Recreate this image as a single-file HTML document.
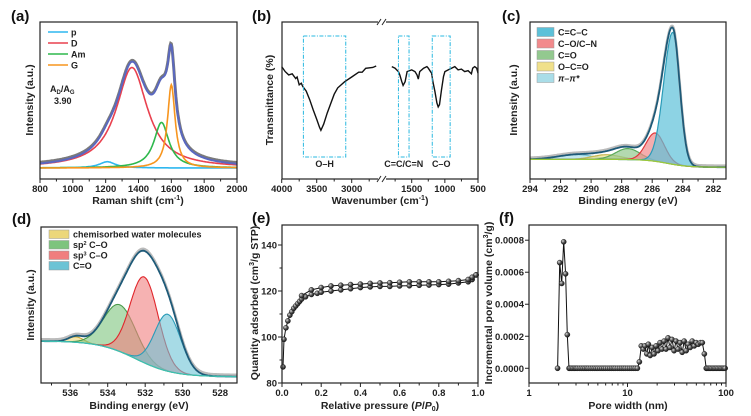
<!DOCTYPE html>
<html><head><meta charset="utf-8">
<style>
html,body{margin:0;padding:0;background:#fff;}
svg{display:block;font-family:"Liberation Sans",Arial,sans-serif;}
.tk{font-size:9.5px;font-weight:bold;fill:#222;}
.ttl{font-size:10.5px;font-weight:bold;fill:#222;}
.pl{font-size:15px;font-weight:bold;fill:#111;}
.lg{font-size:9px;font-weight:bold;fill:#222;}
</style></head>
<body>
<svg id="fig" width="751" height="416" viewBox="0 0 751 416" xmlns="http://www.w3.org/2000/svg">
<defs>
<radialGradient id="ball" cx="0.35" cy="0.35" r="0.7">
<stop offset="0" stop-color="#ddd"/><stop offset="0.5" stop-color="#555"/><stop offset="1" stop-color="#111"/>
</radialGradient>
</defs>
</svg>
<script>
// ---------- data ----------
const ramanNames=["p","D","Am","G"];
const ramanCenters=[1210,1360,1540,1600];
const ramanAmps=[0.04,0.64,0.29,0.53];
const ramanWidths=[60,115,55,28];
const ramanColors=["#2fb7ef","#e9414f","#2eb84d","#f7951e"];
const ramanBase=0.07;
const ramanXTicks=[800,1000,1200,1400,1600,1800,2000];
const ftirLeftX=[4000,3950,3900,3850,3800,3780,3750,3720,3700,3650,3600,3550,3500,3460,3440,3400,3350,3300,3250,3200,3100,3000,2900,2850,2800,2700,2650];
const ftirLeftY=[0.716,0.684,0.663,0.67,0.64,0.65,0.60,0.61,0.59,0.56,0.505,0.44,0.38,0.33,0.31,0.35,0.42,0.48,0.54,0.58,0.62,0.65,0.68,0.68,0.705,0.71,0.72];
const ftirRightX=[1800,1750,1700,1680,1650,1630,1600,1570,1500,1450,1420,1400,1380,1320,1270,1250,1200,1180,1150,1120,1100,1080,1050,1020,1000,950,900,850,800,750,700,650,600,580,550,520,500];
const ftirRightY=[0.716,0.706,0.684,0.663,0.62,0.596,0.62,0.684,0.695,0.684,0.663,0.636,0.684,0.706,0.716,0.706,0.674,0.62,0.558,0.484,0.459,0.474,0.568,0.653,0.684,0.695,0.706,0.716,0.695,0.7,0.684,0.69,0.67,0.706,0.716,0.706,0.674];
const ftirLeftTicks=[4000,3500,3000];
const ftirRightTicks=[1500,1000,500];
const ftirBoxes=[[3690,3085,"O–H"],[1700,1540,"C=C/C=N"],[1190,920,"C–O"]];
const c1sNames=["C=C–C","C–O/C–N","C=O","O–C=O","π–π*"];
const c1sCenters=[284.65,285.8,287.6,289.0,291.0];
const c1sHeights=[0.84,0.18,0.07,0.03,0.03];
const c1sSigmas=[0.45,0.6,0.8,0.9,1.2];
const c1sFill=["#5cc1d9","#f28a8c","#93c98f","#f0e08a","#a9dde8"];
const c1sStroke=["#2a9bb8","#e0393b","#5aaa5a","#c8b850","#7cc8d8"];
const c1sXTicks=[294,292,290,288,286,284,282];
const o1sNames=["chemisorbed water molecules","sp2","sp3","C=O"];
const o1sCenters=[535.7,533.35,532.05,530.8];
const o1sHeights=[0.035,0.30,0.55,0.365];
const o1sSigmas=[0.4,0.85,0.75,0.7];
const o1sFill=["#ecd77a","#7dc47d","#f07e7e","#6cc3d5"];
const o1sStroke=["#c9a93a","#4a9a4a","#e0262b","#2a9bb8"];
const o1sXTicks=[536,534,532,530,528];
const adsP=[0.005,0.01,0.02,0.03,0.04,0.05,0.06,0.07,0.08,0.09,0.1,0.12,0.15,0.18,0.2,0.25,0.3,0.35,0.4,0.45,0.5,0.55,0.6,0.65,0.7,0.75,0.8,0.85,0.9,0.95,0.97,0.99];
const adsQ=[87,99,104,107,109.5,111,112.5,113.5,114.5,115.5,116.5,117.5,118.5,119,119.5,120,120.5,121,121.5,121.8,122,122,122.2,122.3,122.5,122.6,122.8,123,123.5,124,125,127];
const desP=[0.99,0.97,0.95,0.9,0.85,0.8,0.75,0.7,0.65,0.6,0.55,0.5,0.45,0.4,0.35,0.3,0.25,0.2,0.15,0.1];
const desQ=[127,126,125,124.5,124.2,124,124,124,124,123.8,123.6,123.5,123.3,123,122.8,122.5,122.2,121.5,120.5,118];
const eXTicks=[0,0.2,0.4,0.6,0.8,1.0];
const eYTicks=[80,100,120,140];
const poreW=[1.95,2.05,2.15,2.25,2.35,2.45,2.55,2.6,2.7,2.8,2.9,3.0,3.1,3.25,3.4,3.55,3.7,3.85,4.0,4.2,4.4,4.6,4.8,5.0,5.25,5.5,5.75,6.0,6.3,6.6,6.9,7.2,7.5,7.9,8.3,8.7,9.1,9.5,10,10.5,11,11.5,12,12.6,13.2,13.8,14.5,15,15.7,16.3,17,17.8,18.6,19.5,20.4,21.4,22.4,23.5,24.6,25.8,27,28.3,29.7,31.1,32.6,34.2,35.9,37.6,39.4,41.3,43.3,45.4,47.6,49.9,52.3,54.9,57.5,60.3,63,64,66,68,70,72.5,75,77.5,80,83,86,89,92,95,98];
const poreV=[0,0.00066,0.00053,0.00079,0.00059,0.00021,0,0,0,0,0,0,0,0,0,0,0,0,0,0,0,0,0,0,0,0,0,0,0,0,0,0,0,0,0,0,0,0,0,0,0,0,0,0,0.00004,0.00014,0.00012,0.00014,0.00009,0.00015,0.00008,0.00013,0.00009,0.00014,0.00011,0.00016,0.00012,0.00017,0.00012,0.00019,0.00013,0.00018,0.00011,0.00017,0.00012,0.00016,0.0001,0.00017,0.00011,0.00015,0.00013,0.00017,0.00014,0.00016,0.00015,0.00016,0.00016,0.00009,0,0,0,0,0,0,0,0,0,0,0,0,0,0,0];
const fYTicks=[0,0.0002,0.0004,0.0006,0.0008];
const fYLabels=["0.0000","0.0002","0.0004","0.0006","0.0008"];
const fXTicks=[1,10,100];

// ---------- helpers ----------
const svg=document.getElementById('fig');
const NS="http://www.w3.org/2000/svg";
function mk(tag,attrs,parent){const e=document.createElementNS(NS,tag);for(const k in attrs)e.setAttribute(k,attrs[k]);(parent||svg).appendChild(e);return e;}
function txt(s,x,y,cls,anchor,parent){const t=mk('text',{x:x,y:y,class:cls,'text-anchor':anchor||'middle'},parent);t.textContent=s;return t;}
function lin(d0,d1,r0,r1){return v=>r0+(v-d0)/(d1-d0)*(r1-r0);}
function logs(d0,d1,r0,r1){return v=>r0+(Math.log10(v)-Math.log10(d0))/(Math.log10(d1)-Math.log10(d0))*(r1-r0);}
function pathD(xs,ys){return xs.map((x,i)=>(i?'L':'M')+x.toFixed(1)+','+ys[i].toFixed(1)).join('');}
function gauss(x,c,h,s){return h*Math.exp(-(x-c)*(x-c)/(2*s*s));}
function frame(g,x0,y0,x1,y1){const r=mk('rect',{x:x0,y:y0,width:x1-x0,height:y1-y0,fill:'none',stroke:'#222','stroke-width':1.2},g);}
function xticks(g,ticks,sx,yb,minor,labels){
  ticks.forEach((t,i)=>{mk('line',{x1:sx(t),x2:sx(t),y1:yb,y2:yb+4,stroke:'#222','stroke-width':1},g);
    const l=txt(labels?labels[i]:String(t),sx(t),yb+13,'tk','middle',g);});
  (minor||[]).forEach(t=>mk('line',{x1:sx(t),x2:sx(t),y1:yb,y2:yb+2.5,stroke:'#222','stroke-width':1},g));
}
function panelLabel(g,s,x,y){const t=txt(s,x,y,'pl','start',g);}
function ytitle(g,s,x,cy){const t=mk('text',{x:0,y:0,class:'ttl','text-anchor':'middle',transform:'translate('+x+','+cy+') rotate(-90)'},g);t.innerHTML=s;}
function xtitle(g,s,cx,y){const t=mk('text',{x:cx,y:y,class:'ttl','text-anchor':'middle'},g);t.innerHTML=s;}
function ball(g,x,y){const c=mk('circle',{cx:x,cy:y,r:2.6,fill:'url(#ball)',stroke:'#111','stroke-width':0.4},g);}
function grp(name){const g=mk('g',{});return g;}

// ---------- (a) ----------
(function(){
  const g=grp('panel-a-raman');
  const X0=40,X1=237,Y0=22,Y1=179;
  const sx=lin(800,2000,X0,X1), sy=lin(0,1,Y1,Y0);
  const xs=[];for(let x=800;x<=2000;x+=4)xs.push(x);
  const comp=(i,x)=>ramanAmps[i]*ramanWidths[i]**2/((x-ramanCenters[i])**2+ramanWidths[i]**2);
  const tot=xs.map(x=>ramanBase+ramanCenters.reduce((s,_,i)=>s+comp(i,x),0));
  const px=xs.map(sx);
  let e=mk('path',{d:pathD(px,tot.map(v=>sy(v+0.008))),fill:'none',stroke:'#7a7a7a','stroke-width':3},g);
  
  ramanCenters.forEach((c,i)=>{const p=mk('path',{d:pathD(px,xs.map(x=>sy(ramanBase+comp(i,x)))),fill:'none',stroke:ramanColors[i],'stroke-width':1.6},g);
    });
  e=mk('path',{d:pathD(px,tot.map(sy)),fill:'none',stroke:'#5a68c0','stroke-width':2},g);
  
  frame(g,X0,Y0,X1,Y1);
  xticks(g,ramanXTicks,sx,Y1,[900,1100,1300,1500,1700,1900]);
  ramanNames.forEach((n,i)=>{const y=32+i*11;
    const l=mk('line',{x1:48,x2:68,y1:y,y2:y,stroke:ramanColors[i],'stroke-width':1.6},g);
    txt(n,71,y+3.5,'lg','start',g);});
  mk('text',{x:50,y:92,class:'lg'},g).innerHTML='A<tspan font-size="6" dy="2">D</tspan><tspan dy="-2">/A</tspan><tspan font-size="6" dy="2">G</tspan>';
  txt('3.90',54,104,'lg','start',g);
  panelLabel(g,'(a)',11,21);
  ytitle(g,'Intensity (a.u.)',33,100);
  xtitle(g,'Raman shift (cm<tspan font-size="7" dy="-4">-1</tspan><tspan dy="4">)</tspan>',138,204);
})();

// ---------- (b) ----------
(function(){
  const g=grp('panel-b-ftir');
  const X0=282,X1=478,Y0=22,Y1=179;
  const sl=lin(4000,3000,281.7,351.7), sr=lin(1500,500,411.7,478);
  const sy=lin(0,1,Y1,Y0);
  let p=mk('path',{d:pathD(ftirLeftX.map(sl),ftirLeftY.map(sy)),fill:'none',stroke:'#111','stroke-width':1.4},g);
  
  p=mk('path',{d:pathD(ftirRightX.map(sr),ftirRightY.map(sy)),fill:'none',stroke:'#111','stroke-width':1.4},g);
  
  ftirBoxes.forEach(b=>{const s=b[0]>2000?sl:sr;const xa=s(b[0]),xb=s(b[1]);
    const r=mk('rect',{x:xa,y:36,width:xb-xa,height:121,fill:'none',stroke:'#29b8e0','stroke-width':1,'stroke-dasharray':'4,1.5,1,1.5'},g);
    
    const t=txt(b[2],(xa+xb)/2,167,'lg','middle',g);});
  frame(g,X0,Y0,X1,Y1);
  [Y0,Y1].forEach(y=>{mk('rect',{x:378,y:y-3,width:8,height:6,fill:'#fff'},g);
    mk('line',{x1:377,y1:y+3,x2:381,y2:y-3,stroke:'#222','stroke-width':1},g);
    mk('line',{x1:382,y1:y+3,x2:386,y2:y-3,stroke:'#222','stroke-width':1},g);});
  xticks(g,ftirLeftTicks,sl,Y1,[3750,3250,2750]);
  xticks(g,ftirRightTicks,sr,Y1,[1750,1250,750]);
  panelLabel(g,'(b)',252,21);
  ytitle(g,'Transmittance (%)',273,100);
  xtitle(g,'Wavenumber (cm<tspan font-size="7" dy="-4">-1</tspan><tspan dy="4">)</tspan>',380,204);
})();

// ---------- (c) ----------
(function(){
  const g=grp('panel-c-c1s');
  const X0=530,X1=726,Y0=22,Y1=179;
  const sx=lin(294,281.17,X0,X1), sy=lin(0,1,Y1,Y0);
  const base=x=>0.075+0.05/(1+Math.exp(-(x-285)/0.7));
  const xs=[];for(let x=294;x>=281.17;x-=0.05)xs.push(x);
  const comp=(i,x)=>{let s=c1sSigmas[i];if(i===0&&x>c1sCenters[0])s=0.6;return gauss(x,c1sCenters[i],c1sHeights[i],s);};
  const px=xs.map(sx);
  for(let i=c1sCenters.length-1;i>=0;i--){
    const top=xs.map(x=>sy(base(x)+comp(i,x)));const bot=xs.map(x=>sy(base(x)));
    const d=pathD(px,top)+pathD(px.slice().reverse(),bot.slice().reverse()).replace('M','L')+'Z';
    const a=mk('path',{d:d,fill:c1sFill[i],'fill-opacity':0.7,stroke:'none'},g);
    mk('path',{d:pathD(px,top),fill:'none',stroke:c1sStroke[i],'stroke-width':1.2},g);
  }
  const tot=xs.map(x=>base(x)+c1sCenters.reduce((s,_,i)=>s+comp(i,x),0));
  mk('path',{d:pathD(px,tot.map(v=>sy(v+0.01))),fill:'none',stroke:'#bbb','stroke-width':2.5},g);
  const e=mk('path',{d:pathD(px,tot.map(sy)),fill:'none',stroke:'#1e5a78','stroke-width':1.8},g);
  
  mk('path',{d:pathD(px,xs.map(x=>sy(base(x)))),fill:'none',stroke:'#9ac83a','stroke-width':1.2},g);
  frame(g,X0,Y0,X1,Y1);
  xticks(g,c1sXTicks,sx,Y1,[293,291,289,287,285,283]);
  c1sNames.forEach((n,i)=>{const y=32+i*11.5;
    const r=mk('rect',{x:537,y:y-4.5,width:17,height:9,fill:c1sFill[i],stroke:'#999','stroke-width':0.5},g);
    const t=txt(n,558,y+3.3,'lg','start',g);if(i===4){t.setAttribute('font-style','italic');}});
  panelLabel(g,'(c)',502,21);
  ytitle(g,'Intensity (a.u.)',517,100);
  xtitle(g,'Binding energy (eV)',628,204);
})();

// ---------- (d) ----------
(function(){
  const g=grp('panel-d-o1s');
  const X0=41,X1=237,Y0=227,Y1=383;
  const sx=lin(537.56,527.1,X0,X1), sy=lin(0,1,Y1,Y0);
  const base=x=>0.04+0.23/(1+Math.exp(-(x-532.5)/1.0));
  const xs=[];for(let x=537.56;x>=527.1;x-=0.05)xs.push(x);
  const px=xs.map(sx);
  o1sCenters.forEach((c,i)=>{
    const top=xs.map(x=>sy(base(x)+gauss(x,c,o1sHeights[i],o1sSigmas[i])));const bot=xs.map(x=>sy(base(x)));
    const d=pathD(px,top)+pathD(px.slice().reverse(),bot.slice().reverse()).replace('M','L')+'Z';
    const a=mk('path',{d:d,fill:o1sFill[i],'fill-opacity':0.6,stroke:'none'},g);
    mk('path',{d:pathD(px,top),fill:'none',stroke:o1sStroke[i],'stroke-width':1.1},g);
  });
  const tot=xs.map(x=>base(x)+o1sCenters.reduce((s,c,i)=>s+gauss(x,c,o1sHeights[i],o1sSigmas[i]),0));
  mk('path',{d:pathD(px,tot.map(v=>sy(v+0.012))),fill:'none',stroke:'#bbb','stroke-width':2.5},g);
  const e=mk('path',{d:pathD(px,tot.map(sy)),fill:'none',stroke:'#1e5a78','stroke-width':1.8},g);
  
  mk('path',{d:pathD(px,xs.map(x=>sy(base(x)))),fill:'none',stroke:'#3cbfb0','stroke-width':1.3},g);
  frame(g,X0,Y0,X1,Y1);
  xticks(g,o1sXTicks,sx,Y1,[537,535,533,531,529]);
  o1sNames.forEach((n,i)=>{const y=234+i*10.5;
    const r=mk('rect',{x:49,y:y-4,width:20,height:8.5,fill:o1sFill[i],stroke:'#999','stroke-width':0.5},g);
    const t=mk('text',{x:73,y:y+3.3,class:'lg'},g);
    if(n==='sp2'||n==='sp3'){t.innerHTML='sp<tspan font-size="5.5" dy="-3">'+n[2]+'</tspan><tspan dy="3"> C–O</tspan>';}
    else t.textContent=n;});
  panelLabel(g,'(d)',12,224);
  ytitle(g,'Intensity (a.u.)',34,305);
  xtitle(g,'Binding energy (eV)',139,409);
})();

// ---------- (e) ----------
(function(){
  const g=grp('panel-e-isotherm');
  const X0=282,X1=478,Y0=225,Y1=383;
  const sx=lin(0,1,X0,X1), sy=lin(80,148.7,Y1,Y0);
  let p=mk('path',{d:pathD(adsP.map(sx),adsQ.map(sy)),fill:'none',stroke:'#111','stroke-width':1},g);
  
  p=mk('path',{d:pathD(desP.map(sx),desQ.map(sy)),fill:'none',stroke:'#111','stroke-width':1},g);
  
  adsP.forEach((v,i)=>ball(g,sx(v),sy(adsQ[i])));
  desP.forEach((v,i)=>ball(g,sx(v),sy(desQ[i])));
  frame(g,X0,Y0,X1,Y1);
  xticks(g,eXTicks,sx,Y1,[0.1,0.3,0.5,0.7,0.9],eXTicks.map(v=>v.toFixed(1)));
  eYTicks.forEach(t=>{mk('line',{x1:X0-4,x2:X0,y1:sy(t),y2:sy(t),stroke:'#222'},g);
    const l=txt(String(t),X0-5,sy(t)+3.5,'tk','end',g);});
  [90,110,130].forEach(t=>mk('line',{x1:X0-2.5,x2:X0,y1:sy(t),y2:sy(t),stroke:'#222'},g));
  panelLabel(g,'(e)',252,223);
  ytitle(g,'Quantity adsorbed (cm<tspan font-size="7" dy="-4">3</tspan><tspan dy="4">/g STP)</tspan>',258,303);
  xtitle(g,'Relative pressure (<tspan font-style="italic">P</tspan>/<tspan font-style="italic">P</tspan><tspan font-size="7" dy="2">0</tspan><tspan dy="-2">)</tspan>',380,409);
})();

// ---------- (f) ----------
(function(){
  const g=grp('panel-f-pore-size');
  const X0=529,X1=726,Y0=225,Y1=383;
  const sx=logs(1,100,X0,X1), sy=lin(-0.000092,0.000895,Y1,Y0);
  const p=mk('path',{d:pathD(poreW.map(sx),poreV.map(sy)),fill:'none',stroke:'#111','stroke-width':1},g);
  
  poreW.forEach((w,i)=>ball(g,sx(w),sy(poreV[i])));
  frame(g,X0,Y0,X1,Y1);
  const minor=[];[1,10].forEach(d=>{for(let k=2;k<=9;k++)minor.push(d*k);});
  xticks(g,fXTicks,sx,Y1,minor);
  fYTicks.forEach((t,i)=>{mk('line',{x1:X0-4,x2:X0,y1:sy(t),y2:sy(t),stroke:'#222'},g);
    const l=txt(fYLabels[i],X0-5,sy(t)+3.5,'tk','end',g);});
  panelLabel(g,'(f)',499,223);
  ytitle(g,'Incremental pore volume (cm<tspan font-size="7" dy="-4">3</tspan><tspan dy="4">/g)</tspan>',492,303);
  xtitle(g,'Pore width (nm)',628,409);
})();
</script>
</body></html>
